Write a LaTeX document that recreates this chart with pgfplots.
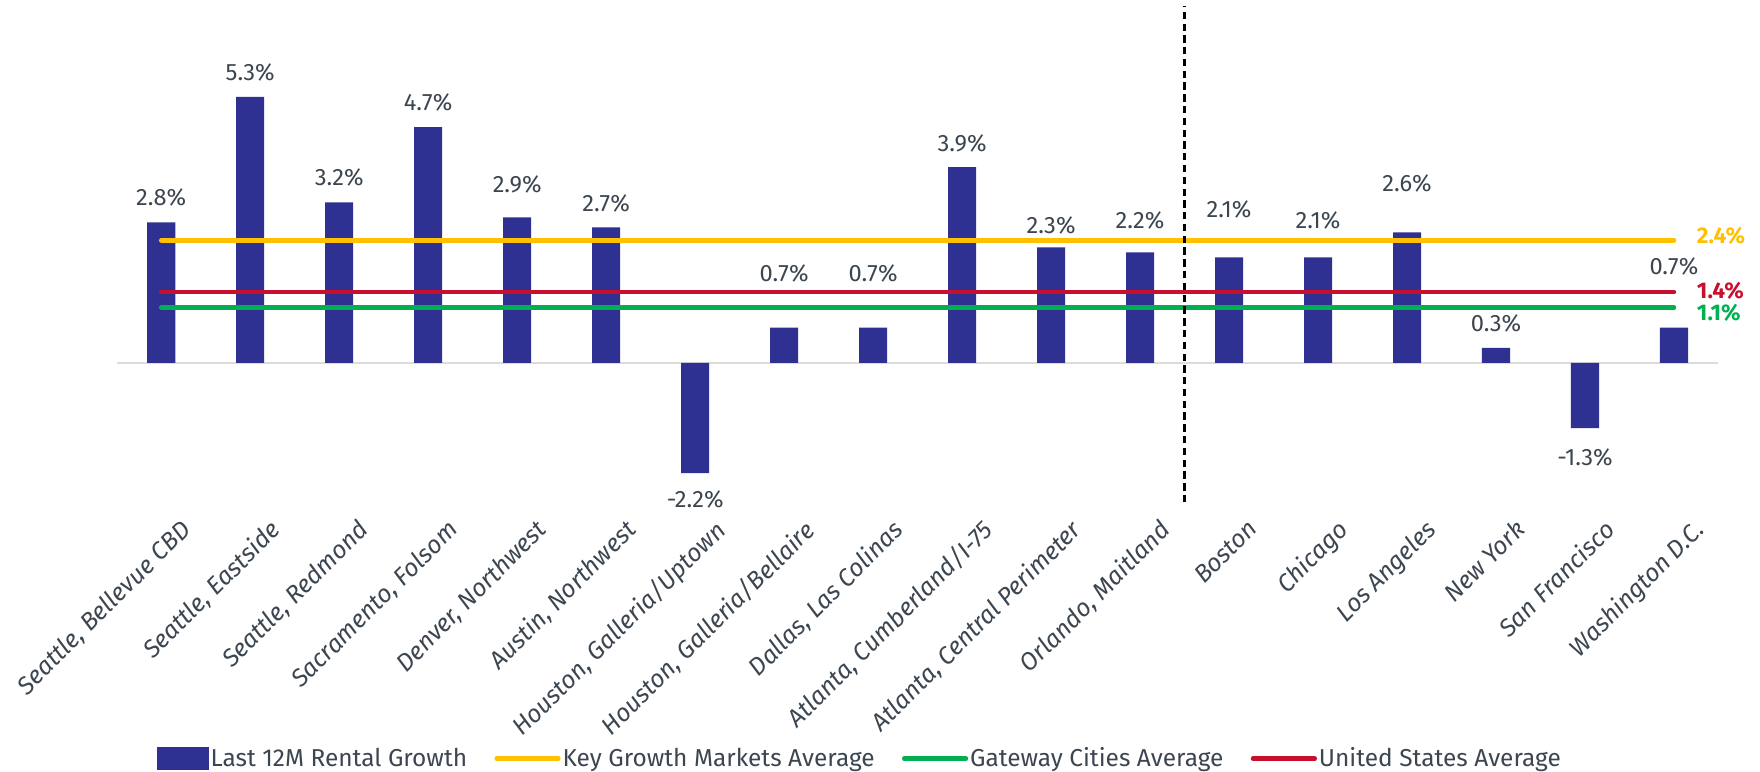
\documentclass[border=0pt]{standalone}
\usepackage{pgfplots}
\pgfplotsset{compat=1.18}
\usepackage{fontspec}
\setmainfont{Fira Sans}
\usetikzlibrary{calc}
\definecolor{navy}{HTML}{2E3192}
\definecolor{gold}{HTML}{FFC000}
\definecolor{grn}{HTML}{00B050}
\definecolor{crim}{HTML}{C8102E}
\definecolor{txt}{HTML}{3C4650}
\definecolor{zeroline}{HTML}{DCDCDC}

\pgfplotstableread{
x  y     ly     lab
0  2.8   3.29   2.8\%
1  5.3   5.79   5.3\%
2  3.2   3.69   3.2\%
3  4.7   5.19   4.7\%
4  2.9   3.56   2.9\%
5  2.7   3.18   2.7\%
6  -2.2  -2.73  -2.2\%
7  0.7   1.79   0.7\%
8  0.7   1.79   0.7\%
9  3.9   4.38   3.9\%
10 2.3   2.73   2.3\%
11 2.2   2.84   2.2\%
12 2.1   3.06   2.1\%
13 2.1   2.84   2.1\%
14 2.6   3.58   2.6\%
15 0.3   0.78   0.3\%
16 -1.3  -1.88  -1.3\%
17 0.7   1.92   0.7\%
}\growth

\begin{document}
\begin{tikzpicture}
\begin{axis}[
  scale only axis, width=28.54cm, height=8.85cm,
  xmin=-0.5, xmax=17.5, ymin=-2.78, ymax=7.12,
  clip=false,
  axis line style={draw=none},
  major tick length=0pt,
  ytick=\empty,
  xtick={0,...,17},
  xticklabels={{Seattle, Bellevue CBD},{Seattle, Eastside},{Seattle, Redmond},
    {Sacramento, Folsom},{Denver, Northwest},{Austin, Northwest},
    {Houston, Galleria/Uptown},{Houston, Galleria/Bellaire},{Dallas, Las Colinas},
    {Atlanta, Cumberland/I-75},{Atlanta, Central Perimeter},{Orlando, Maitland},
    Boston,Chicago,{Los Angeles},{New York},{San Francisco},{Washington D.C.}},
  xticklabel style={rotate=45, anchor=north east, font=\fontsize{12.5}{14}\selectfont\itshape,
    text=txt, yshift=-0.3cm, xshift=0.15cm},
  legend columns=4,
  legend style={at={(0.464,-0.516)}, anchor=center, draw=none, fill=none,
    font=\fontsize{12.4}{14}\selectfont, text=txt,
    /tikz/every even column/.append style={column sep=0.45cm},
    nodes={inner sep=1pt}},
]
% zero line
\addplot[zeroline, line width=0.03cm, forget plot] coordinates {(-0.5,0) (17.5,0)};

\addplot[ybar, bar width=0.5cm, fill=navy, draw=none,
  legend image code/.code={\fill[navy] (0cm,-0.2cm) rectangle (0.92cm,0.2cm);}]
  table[x=x, y=y] {\growth};
\addlegendentry{Last 12M Rental Growth}

\addplot[gold, line width=0.08cm, line cap=round,
  legend image code/.code={\draw[gold, line width=0.08cm, line cap=round] (0cm,0cm) -- (1.1cm,0cm);}]
  coordinates {(0,2.44) (17,2.44)};
\addlegendentry{Key Growth Markets Average}

\addplot[grn, line width=0.08cm, line cap=round,
  legend image code/.code={\draw[grn, line width=0.08cm, line cap=round] (0cm,0cm) -- (1.1cm,0cm);}]
  coordinates {(0,1.1) (17,1.1)};
\addlegendentry{Gateway Cities Average}

\addplot[crim, line width=0.08cm, line cap=round,
  legend image code/.code={\draw[crim, line width=0.08cm, line cap=round] (0cm,0cm) -- (1.1cm,0cm);}]
  coordinates {(0,1.41) (17,1.41)};
\addlegendentry{United States Average}

% value labels
\addplot[only marks, mark=none, forget plot, nodes near coords, point meta=explicit symbolic,
  nodes near coords style={anchor=center, font=\fontsize{12}{14}\selectfont, text=txt}]
  table[x=x, y=ly, meta=lab] {\growth};

% divider
\addplot[black, line width=0.05cm, dash pattern=on 0.13cm off 0.08cm, forget plot]
  coordinates {(11.5,-2.78) (11.5,7.12)};

\node[anchor=west, text=gold, font=\fontsize{11.5}{12}\selectfont\bfseries] at (axis cs:17.18,2.53) {2.4\%};
\node[anchor=west, text=crim, font=\fontsize{11.5}{12}\selectfont\bfseries] at (axis cs:17.18,1.43) {1.4\%};
\node[anchor=west, text=grn, font=\fontsize{11.5}{12}\selectfont\bfseries] at (axis cs:17.18,1.00) {1.1\%};

\coordinate (BL) at (rel axis cs:0,0);
\coordinate (TR) at (rel axis cs:1,1);
\end{axis}
\pgfresetboundingbox
\path[use as bounding box] ($(BL)+(-2.08cm,-4.8cm)$) rectangle ($(TR)+(0.74cm,0.1cm)$);
\end{tikzpicture}
\end{document}
